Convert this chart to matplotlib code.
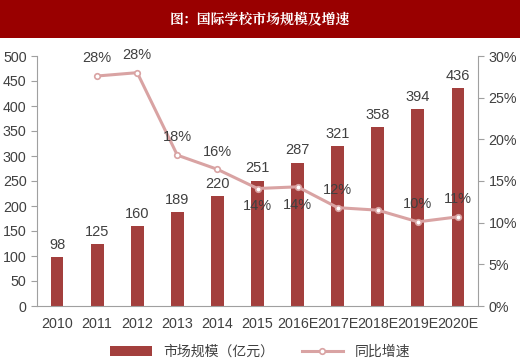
import matplotlib.pyplot as plt
from matplotlib.patches import Rectangle
import numpy as np

plt.rcParams['font.family'] = ['Liberation Sans', 'Noto Sans CJK SC', 'DejaVu Sans']

years = ['2010', '2011', '2012', '2013', '2014', '2015',
         '2016E', '2017E', '2018E', '2019E', '2020E']
market = [98, 125, 160, 189, 220, 251, 287, 321, 358, 394, 436]
growth = [None, 27.6, 28.0, 18.1, 16.4, 14.1, 14.3, 11.8, 11.5, 10.1, 10.7]
growth_labels = ['', '28%', '28%', '18%', '16%', '14%', '14%', '12%', '', '10%', '11%']
label_below = [False, False, False, False, False, True, True, False, False, False, False]

bar_color = '#A33F3D'
line_color = '#D9A3A3'
text_color = '#404040'
axis_color = '#A0A0A0'

fig = plt.figure(figsize=(5.2, 3.64), dpi=100)

# title banner
fig.patches.append(Rectangle((0, 1 - 38 / 364), 1, 38 / 364, transform=fig.transFigure,
                             facecolor='#990000', edgecolor='none', zorder=0))
fig.text(0.5, 1 - 19 / 364, '图：国际学校市场规模及增速', ha='center', va='center',
         color='white', fontsize=10, fontweight='bold', family=['Noto Serif CJK SC', 'Noto Sans CJK SC'])

ax = fig.add_axes([37 / 520, 1 - 306 / 364, 441 / 520, 250 / 364])
x = np.arange(len(years))
bars = ax.bar(x, market, width=0.32, color=bar_color, zorder=2)
for xi, v in zip(x, market):
    ax.text(xi, v + 10, str(v), ha='center', va='bottom', fontsize=10.5, color=text_color)

ax.set_xlim(-0.5, len(years) - 0.5)
ax.set_ylim(0, 500)
ax.set_yticks(range(0, 501, 50))
ax.set_xticks(x)
ax.set_xticklabels(years)
ax.tick_params(axis='x', length=0, pad=8, labelsize=10.3, colors=text_color)
ax.tick_params(axis='y', length=4, color=axis_color, labelsize=10.3, labelcolor=text_color)
for s in ['top', 'right']:
    ax.spines[s].set_visible(False)
for s in ['left', 'bottom']:
    ax.spines[s].set_color(axis_color)

ax2 = ax.twinx()
gx = [xi for xi, g in zip(x, growth) if g is not None]
gy = [g for g in growth if g is not None]
line, = ax2.plot(gx, gy, color=line_color, lw=2.2, marker='o', markersize=4,
                 markerfacecolor='white', markeredgecolor=line_color, markeredgewidth=1.2,
                 zorder=3)
ax2.set_ylim(0, 30)
ax2.set_yticks(range(0, 31, 5))
ax2.set_yticklabels([f'{v}%' for v in range(0, 31, 5)])
ax2.tick_params(axis='y', length=4, color=axis_color, labelsize=10.3, labelcolor=text_color)
for s in ['top', 'left', 'bottom']:
    ax2.spines[s].set_visible(False)
ax2.spines['right'].set_color(axis_color)

for xi, g, lab, below in zip(x, growth, growth_labels, label_below):
    if g is None or not lab:
        continue
    if below:
        ax2.text(xi, g - 1.3, lab, ha='center', va='top', fontsize=10.5, color=text_color)
    else:
        ax2.text(xi, g + 1.3, lab, ha='center', va='bottom', fontsize=10.5, color=text_color)

fig.legend([bars, line], ['市场规模（亿元）', '同比增速'], loc='center',
           bbox_to_anchor=(0.5, 1 - 352 / 364), ncol=2, frameon=False,
           handlelength=3.0, columnspacing=2.0, labelcolor=text_color,
           prop={'family': ['Noto Sans CJK SC'], 'size': 10})

fig.savefig('out.png', dpi=100)
